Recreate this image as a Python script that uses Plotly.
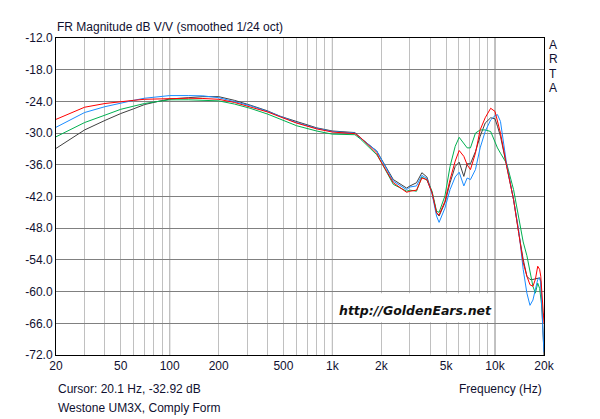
import plotly.graph_objects as go

# ---------------- data ----------------
freq_hz = [20, 25, 30, 40, 50, 60, 70, 85, 100, 130, 160, 200, 250, 312, 400, 476,
           602, 800, 1000, 1376, 1486, 1874, 1964,
           2370, 2860, 3000, 3290, 3550, 3810, 4100, 4370, 4530, 4920, 5290, 5690,
           6020, 6430, 6740, 7060, 7580, 8100, 8700, 9400, 10000, 10350, 10800,
           11800, 13000, 14000, 14900, 15700, 16400, 17100, 17700, 18300, 18800,
           19100, 19600, 20000]

black_db = [-32.9, -31.0, -29.4, -27.6, -26.3, -25.4, -24.6, -24.0, -23.55, -23.3,
            -23.1, -23.1, -23.8, -24.7, -25.8, -26.8, -27.8, -29.0, -29.6,
            -29.9, -30.9, -33.4, -34.5, -38.8, -40.4, -40.0, -39.4, -37.5, -38.3,
            -41.3, -45.1, -45.7, -43.2, -39.4, -36.3, -35.5, -38.2, -35.8, -35.8,
            -33.5, -30.6, -28.1, -27.1, -27.3, -28.7, -30.6, -36.3, -42.6, -49.0,
            -53.9, -57.1, -57.7, -57.7, -57.6, -57.4, -57.4, -58.0, -66.0, -72.0]

green_db = [-30.7, -29.2, -28.0, -26.6, -25.5, -24.9, -24.4, -24.0, -23.7, -23.7,
            -23.75, -23.9, -24.5, -25.3, -26.4, -27.4, -28.6, -29.6, -30.2,
            -30.3, -31.1, -34.1, -35.1, -39.7, -41.0, -40.8, -41.0, -38.3, -38.9,
            -41.0, -44.8, -45.0, -41.9, -36.3, -32.5, -30.8, -31.9, -32.8, -32.8,
            -30.0, -29.4, -29.4, -29.7, -31.9, -32.8, -33.8, -35.8, -40.7, -45.7,
            -50.6, -53.2, -56.5, -59.0, -60.3, -58.4, -59.4, -61.0, -64.0, -64.5]

blue_db = [-28.9, -27.3, -26.1, -25.0, -24.3, -23.8, -23.4, -23.1, -22.9, -22.9,
           -22.95, -23.3, -24.0, -24.8, -25.9, -26.8, -28.0, -29.1, -29.7,
           -30.0, -30.9, -33.4, -34.5, -39.1, -40.7, -40.2, -40.0, -38.0, -38.6,
           -41.5, -45.7, -46.9, -44.2, -40.7, -38.3, -37.4, -40.0, -38.5, -38.8,
           -36.9, -32.8, -29.7, -27.5, -26.7, -26.5, -27.8, -36.0, -42.6, -48.5,
           -55.8, -60.3, -62.6, -61.6, -59.4, -57.7, -57.4, -58.4, -66.0, -71.5]

red_db = [-27.4, -26.1, -25.1, -24.4, -24.0, -23.8, -23.6, -23.5, -23.4, -23.4,
          -23.45, -23.6, -24.2, -25.0, -26.0, -26.9, -28.1, -29.2, -29.8,
          -30.1, -30.8, -33.8, -35.1, -39.4, -41.2, -41.0, -40.8, -38.5, -38.8,
          -41.3, -45.1, -45.5, -42.9, -38.8, -35.3, -33.3, -34.4, -36.0, -36.9,
          -33.8, -29.4, -27.1, -25.3, -25.9, -27.8, -30.0, -36.3, -42.6, -49.0,
          -54.5, -57.1, -58.7, -59.0, -57.7, -55.2, -55.8, -57.1, -63.0, -66.0]

x_major_vals = [20, 50, 100, 200, 500, 1000, 2000, 5000, 10000, 20000]
x_major_text = ["20", "50", "100", "200", "500", "1k", "2k", "5k", "10k", "20k"]
x_minor_vals = [30, 40, 60, 70, 80, 90, 300, 400, 600, 700, 800, 900,
                3000, 4000, 6000, 7000, 8000, 9000]
x_dark_vals = [100, 1000, 10000]
y_tick_vals = [-12, -18, -24, -30, -36, -42, -48, -54, -60, -66, -72]
y_tick_text = ["%.1f" % v for v in y_tick_vals]

title_text = "FR Magnitude dB V/V (smoothed 1/24 oct)"
cursor_text = "Cursor: 20.1 Hz, -32.92 dB"
device_text = "Westone UM3X, Comply Form"
xlabel_text = "Frequency (Hz)"
brand_letters = ["A", "R", "T", "A"]
watermark_text = "http://GoldenEars.net"

# ---------------- figure ----------------
TXT = "#101030"
FONT = "Liberation Sans"

fig = go.Figure()
series = [(black_db, "#404040"), (green_db, "#00b050"), (blue_db, "#1a8cff"), (red_db, "#ff0000")]
for vals, col in series:
    fig.add_trace(go.Scatter(x=freq_hz, y=vals, mode="lines",
                             line=dict(color=col, width=1), showlegend=False,
                             hoverinfo="skip"))

fig.update_layout(
    width=600, height=419,
    margin=dict(l=56, r=56, t=38, b=64),
    paper_bgcolor="white", plot_bgcolor="white",
    font=dict(family=FONT, size=12, color=TXT),
    showlegend=False,
)

fig.update_xaxes(
    type="log", range=[1.30103, 4.30103],
    tickmode="array", tickvals=x_major_vals, ticktext=x_major_text,
    showgrid=True, gridcolor="#c0c0c0", gridwidth=1,
    minor=dict(tickmode="array", tickvals=x_minor_vals, showgrid=True,
               gridcolor="#c0c0c0", gridwidth=1, ticks=""),
    ticks="", showline=True, mirror=True, linecolor="black", linewidth=1,
    tickfont=dict(family=FONT, size=12, color=TXT), zeroline=False,
)
fig.update_yaxes(
    range=[-72, -12], tickmode="array", tickvals=y_tick_vals, ticktext=y_tick_text,
    showgrid=True, gridcolor="#808080", gridwidth=1,
    ticks="", showline=True, mirror=True, linecolor="black", linewidth=1,
    tickfont=dict(family=FONT, size=12, color=TXT), zeroline=False,
)

# white box behind the watermark
fig.add_shape(type="rect", xref="x", yref="y", x0=1030, x1=9700, y0=-65.8, y1=-60.3,
              fillcolor="white", line=dict(width=0), layer="between")
for v in x_dark_vals:
    fig.add_shape(type="line", xref="x", yref="paper", x0=v, x1=v, y0=0, y1=1,
                  line=dict(color="#808080", width=1), layer="between")

ann = []
ann.append(dict(text=title_text, xref="paper", yref="paper", x=0, y=1,
                xanchor="left", yanchor="middle", yshift=11, xshift=-1,
                showarrow=False, font=dict(size=12, color=TXT, family=FONT)))
for i, ch in enumerate(brand_letters):
    ann.append(dict(text=ch, xref="paper", yref="paper", x=1, y=1,
                    xanchor="center", yanchor="middle", xshift=9,
                    yshift=-(7 + 14.4 * i), showarrow=False,
                    font=dict(size=12, color=TXT, family=FONT)))
ann.append(dict(text=cursor_text, xref="paper", yref="paper", x=0, y=0,
                xanchor="left", yanchor="middle", yshift=-34, showarrow=False,
                font=dict(size=12, color=TXT, family=FONT)))
ann.append(dict(text=device_text, xref="paper", yref="paper", x=0, y=0,
                xanchor="left", yanchor="middle", yshift=-53, showarrow=False,
                font=dict(size=12, color=TXT, family=FONT)))
ann.append(dict(text=xlabel_text, xref="paper", yref="paper", x=1, y=0,
                xanchor="right", yanchor="middle", yshift=-34, showarrow=False,
                font=dict(size=12, color=TXT, family=FONT)))
ann.append(dict(text="<b><i>" + watermark_text + "</i></b>", xref="paper", yref="paper",
                x=(415 - 56) / 488, y=0, xanchor="center", yanchor="middle", yshift=45,
                showarrow=False, font=dict(size=12.5, color="#111111", family="DejaVu Sans")))
fig.update_layout(annotations=ann)

fig.write_html("out.html")
